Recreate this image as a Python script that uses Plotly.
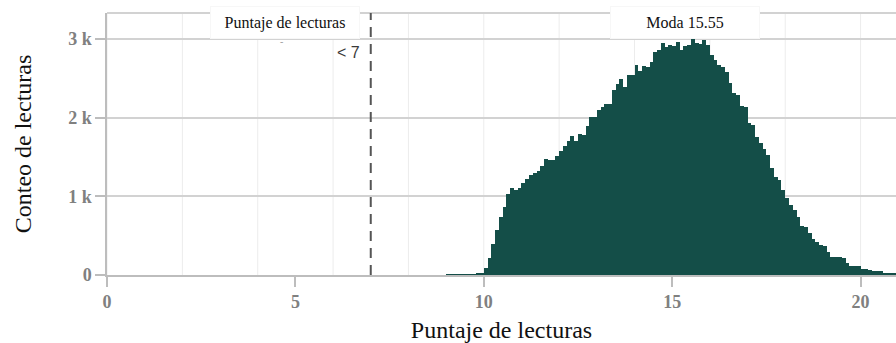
import plotly.graph_objects as go

# Histogram of reading scores: left edge of each 0.1-wide bin and its count
bin_width = 0.1
bin_start = 9.0
counts = [
    2, 3, 3, 4, 5, 6, 8, 10, 14, 30,                      # 9.0 - 9.9
    92, 210, 400, 570, 740, 865, 1035, 1105, 1085, 1105,  # 10.0 - 10.9
    1170, 1225, 1275, 1300, 1320, 1390, 1475, 1460, 1465, 1515,  # 11.0 - 11.9
    1580, 1640, 1700, 1768, 1710, 1800, 1785, 1890, 2015, 2005,  # 12.0 - 12.9
    2100, 2140, 2170, 2175, 2355, 2425, 2490, 2395, 2545, 2550,  # 13.0 - 13.9
    2670, 2590, 2660, 2650, 2714, 2841, 2860, 2947, 2905, 2926,  # 14.0 - 14.9
    2915, 2968, 2863, 2913, 2926, 3024, 2947, 2939, 2990, 2926,  # 15.0 - 15.9
    2799, 2735, 2672, 2650, 2587, 2439, 2320, 2290, 2150, 2141,  # 16.0 - 16.9
    1930, 1908, 1752, 1683, 1605, 1530, 1357, 1251, 1209, 1081,  # 17.0 - 17.9
    975, 891, 827, 742, 623, 606, 530, 454, 424, 382,            # 18.0 - 18.9
    369, 297, 233, 233, 225, 212, 157, 115, 115, 110,            # 19.0 - 19.9
    76, 76, 70, 51, 51, 48, 30, 30, 28, 25,                      # 20.0 - 20.9
]
bin_centers = [round(bin_start + (i + 0.5) * bin_width, 3) for i in range(len(counts))]

cutoff = 7
mode_value = 15.55

x_ticks = [0, 5, 10, 15, 20]
x_grid = [0, 2, 4, 6, 8, 10, 12, 14, 16, 18, 20]
y_ticks = [0, 1000, 2000, 3000]
y_labels = ["0", "1 k", "2 k", "3 k"]

x_range = [0, 20.94]
y_range = [0, 3333]

bar_color = "#144e48"
serif = "Liberation Serif, Times New Roman, serif"
tick_font = dict(family=serif, size=18, color="#808080", weight="bold")

fig = go.Figure()
fig.add_trace(go.Bar(
    x=bin_centers, y=counts, width=bin_width,
    marker=dict(color=bar_color, line=dict(width=0)),
    hoverinfo="x+y", showlegend=False,
))

shapes = []
# light vertical grid every 2 points
for gx in x_grid:
    shapes.append(dict(type="line", xref="x", yref="y domain", x0=gx, x1=gx, y0=0, y1=1,
                       line=dict(color="#ececec", width=1), layer="below"))
# top edge of the panel
shapes.append(dict(type="line", xref="x domain", yref="y domain", x0=0, x1=1, y0=1, y1=1,
                   line=dict(color="#d2d2d2", width=2), layer="below"))
# cutoff marker
shapes.append(dict(type="line", xref="x", yref="y domain", x0=cutoff, x1=cutoff, y0=0, y1=1,
                   line=dict(color="#555555", width=2, dash="10px,7px"), layer="above"))

label_box = dict(xref="x", yref="paper", y=0.9637, yanchor="middle", xanchor="center",
                 showarrow=False, font=dict(family=serif, size=16, color="#111111"),
                 bgcolor="white", bordercolor="#f7f7f7", borderwidth=1,
                 width=144, height=27, borderpad=2)

annotations = [
    dict(text="Puntaje de lecturas", x=4.72, **label_box),
    dict(text="-", x=4.64, y=2965, xref="x", yref="y", showarrow=False, yanchor="middle",
         font=dict(family=serif, size=10, color="#9a9a9a")),
    dict(text="< 7", x=cutoff, y=2830, xref="x", yref="y", xanchor="right", yanchor="middle",
         xshift=-9, showarrow=False,
         font=dict(family="Liberation Sans, Arial, sans-serif", size=16, color="#3a3a3a")),
    dict(text=f"Moda {mode_value:.2f}", x=mode_value, xshift=-8, **label_box),
]

fig.update_layout(
    width=896, height=343,
    margin=dict(l=107, r=0, t=13, b=68),
    paper_bgcolor="white", plot_bgcolor="white",
    bargap=0,
    shapes=shapes, annotations=annotations,
    xaxis=dict(
        range=x_range, tickvals=x_ticks, ticktext=[str(v) for v in x_ticks],
        showgrid=False, zeroline=False,
        showline=True, linecolor="#bdbdbd", linewidth=1.5,
        ticks="outside", ticklen=10, tickwidth=1.5, tickcolor="#bdbdbd",
        tickfont=tick_font,
        title=dict(text="Puntaje de lecturas", font=dict(family=serif, size=24, color="#111111"), standoff=10),
    ),
    yaxis=dict(
        range=y_range, tickvals=y_ticks, ticktext=y_labels,
        showgrid=True, gridcolor="#d2d2d2", gridwidth=2, zeroline=False,
        showline=True, linecolor="#bdbdbd", linewidth=1.5,
        ticks="outside", ticklen=10, tickwidth=1.5, tickcolor="#bdbdbd",
        tickfont=tick_font,
        title=dict(text="Conteo de lecturas", font=dict(family=serif, size=24, color="#111111"), standoff=30),
    ),
)

fig.write_html("out.html")
